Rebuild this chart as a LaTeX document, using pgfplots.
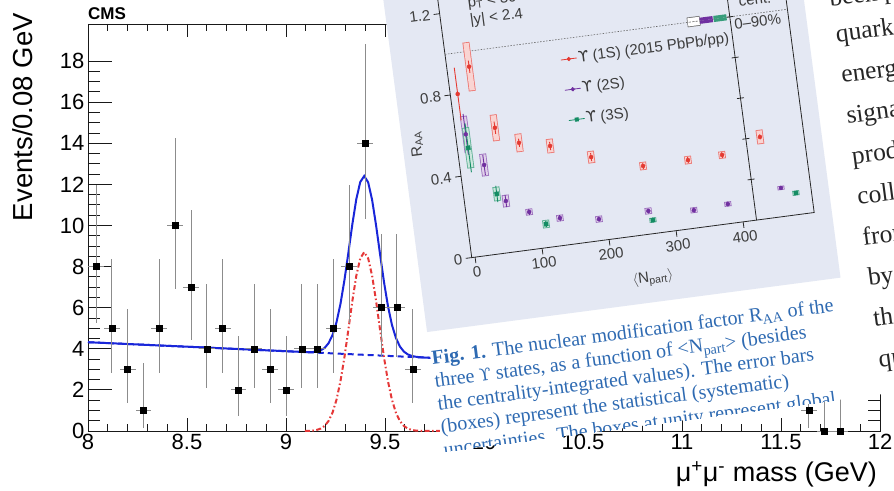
\documentclass[border=0pt]{standalone}
\usepackage{fontspec}
\setmainfont{Liberation Sans}
\newfontfamily\seriffont{Liberation Serif}
\newfontfamily\dvsans{DejaVu Sans}
\newfontfamily\dvserif{DejaVu Serif}
\usepackage{pgfplots}
\pgfplotsset{compat=1.18}
\usepackage{pgfplotstable}
\usetikzlibrary{calc}

\definecolor{cmsblue}{rgb}{0.10,0.15,0.85}
\definecolor{cmsred}{rgb}{0.90,0.22,0.22}
\definecolor{errgray}{gray}{0.55}
\definecolor{paperblue}{RGB}{228,232,243}
\definecolor{capblue}{RGB}{46,106,178}
\definecolor{ured}{RGB}{228,58,50}
\definecolor{upur}{RGB}{112,48,160}
\definecolor{ugrn}{RGB}{20,140,100}
\definecolor{txtgray}{RGB}{60,60,60}

% ---------------- main CMS data ----------------
\pgfplotstableread{
x y ex ep em
8.04 8 0.04 3.95 2.77
8.12 5 0.04 3.38 2.16
8.20 3 0.04 2.92 1.63
8.28 1 0.04 2.30 0.83
8.36 5 0.04 3.38 2.16
8.44 10 0.04 4.27 3.11
8.52 7 0.04 3.77 2.58
8.60 4 0.04 3.16 1.91
8.68 5 0.04 3.38 2.16
8.76 2 0.04 2.64 1.29
8.84 4 0.04 3.16 1.91
8.92 3 0.04 2.92 1.63
9.00 2 0.04 2.64 1.29
9.08 4 0.04 3.16 1.91
9.16 4 0.04 3.16 1.91
9.24 5 0.04 3.38 2.16
9.32 8 0.04 3.95 2.77
9.40 14 0.04 4.83 3.70
9.48 6 0.04 3.58 2.38
9.56 6 0.04 3.58 2.38
9.64 3 0.04 2.92 1.63
11.64 1 0.04 2.30 0.83
11.72 0 0.04 1.84 0
11.80 0 0.04 1.84 0
}\cmsdata

\pgfplotstableread{
x y
8.000 4.320
9.095 3.841
9.115 3.837
9.135 3.842
9.155 3.864
9.175 3.921
9.195 4.042
9.215 4.273
9.235 4.671
9.255 5.288
9.275 6.179
9.295 7.330
9.315 8.671
9.335 10.053
9.355 11.274
9.375 12.115
9.395 12.406
9.415 12.097
9.435 11.239
9.455 10.000
9.475 8.601
9.495 7.242
9.515 6.073
9.535 5.165
9.555 4.530
9.575 4.115
9.595 3.866
9.615 3.727
9.635 3.653
9.655 3.613
9.675 3.591
9.695 3.577
9.800 3.528
}\totfit

\pgfplotstableread{
x y
9.095 0.003
9.115 0.008
9.135 0.021
9.155 0.052
9.175 0.118
9.195 0.248
9.215 0.488
9.235 0.894
9.255 1.52
9.275 2.42
9.295 3.58
9.315 4.93
9.335 6.32
9.355 7.55
9.375 8.40
9.395 8.70
9.415 8.40
9.435 7.55
9.455 6.32
9.475 4.93
9.495 3.58
9.515 2.42
9.535 1.52
9.555 0.894
9.575 0.488
9.595 0.248
9.615 0.118
9.635 0.052
9.655 0.021
9.675 0.008
9.695 0.003
9.800 0.000
}\sigfit

% ---------------- inset data (R_AA vs Npart) ----------------
\pgfplotstableread{
n r stat
6 0.80 0.13
28 0.925 0.03
54 0.613 0.03
86.5 0.525 0.02
131.5 0.49 0.02
189.5 0.41 0.02
264 0.334 0.015
331 0.334 0.015
382 0.337 0.015
441 0.40 0.012
}\upsA
\pgfplotstableread{
n r sys
28 0.925 0.12
54 0.613 0.065
86.5 0.525 0.045
131.5 0.49 0.035
189.5 0.41 0.03
264 0.334 0.02
331 0.334 0.02
382 0.337 0.018
441 0.40 0.035
}\upsAsys
\pgfplotstableread{
n r stat
10 0.60 0.10
31 0.44 0.05
56 0.252 0.03
88 0.184 0.015
132 0.135 0.015
189 0.105 0.012
263 0.113 0.012
330 0.088 0.012
381 0.096 0.012
462 0.14 0.008
}\upsB
\pgfplotstableread{
n r sys
10 0.60 0.09
31 0.44 0.055
56 0.252 0.03
88 0.184 0.016
132 0.135 0.016
189 0.105 0.016
263 0.113 0.016
330 0.088 0.014
381 0.096 0.012
462 0.14 0.01
}\upsBsys
\pgfplotstableread{
n r stat
11 0.533 0.12
44 0.292 0.04
110.5 0.115 0.015
268 0.066 0.012
483 0.106 0.008
}\upsC
\pgfplotstableread{
n r sys
11 0.533 0.10
44 0.292 0.035
110.5 0.115 0.02
268 0.066 0.012
483 0.106 0.012
}\upsCsys
\pgfplotstableread{
n r sys
366 1 0.024
}\globA
\pgfplotstableread{
n r sys
385 1 0.015
}\globB
\pgfplotstableread{
n r sys
405.5 1 0.015
}\globC

\newcommand\sysboxes[2]{%
  \addplot[forget plot, draw=none, mark=none, error bars/.cd, y dir=both, y explicit, error mark=none,
    error bar style={draw=#1!70, line width=7pt}] table[x=n,y=r,y error=sys]{#2};
  \addplot[forget plot, draw=none, mark=none, error bars/.cd, y dir=both, y explicit, error mark=none,
    error bar style={draw=#1!22, line width=5.4pt}] table[x=n,y=r,y error expr=\thisrow{sys}-0.004]{#2};
}
\newcommand\statpts[3]{%
  \addplot[forget plot, only marks, mark=#3, mark size=2pt, color=#1, error bars/.cd, y dir=both, y explicit,
    error mark=none, error bar style={line width=0.9pt, draw=#1}] table[x=n,y=r,y error=stat]{#2};
}
\newcommand\insetfont{\fontsize{15}{17}\selectfont}

\begin{document}
\begin{tikzpicture}
\useasboundingbox (0pt,0pt) rectangle (894pt,490pt);

% ================= CMS mass spectrum =================
\begin{axis}[
  at={(88pt,59pt)}, anchor=south west, scale only axis,
  width=792pt, height=407pt,
  xmin=8, xmax=12, ymin=0, ymax=19.8,
  clip=false,
  axis line style={black!90, line width=0.9pt},
  xtick={8,8.5,9,9.5,10,10.5,11,11.5,12},
  ytick={0,2,4,6,8,10,12,14,16,18},
  minor x tick num=4, minor y tick num=3,
  xtick style={black!90, line width=0.8pt, /pgfplots/major tick length=13pt, /pgfplots/minor tick length=7pt},
  ytick style={black!90, line width=0.8pt, /pgfplots/major tick length=24pt, /pgfplots/minor tick length=12pt},
  ticklabel style={font=\fontsize{22}{24}\selectfont},
  /pgf/number format/assume math mode=true,
  xlabel={μ\textsuperscript{+}μ\textsuperscript{-} mass (GeV)},
  xlabel style={at={(axis description cs:1,0)}, anchor=north east, inner sep=0pt, yshift=-30pt, xshift=-3pt,
    font=\fontsize{27}{30}\selectfont},
  ylabel={Events/0.08 GeV},
  ylabel style={at={(axis description cs:-0.0821,1.0272)}, anchor=east, inner sep=0pt,
    font=\fontsize{27.5}{30}\selectfont},
]
\addplot[cmsblue, line width=2pt, dash pattern=on 6pt off 4pt] coordinates {(8,4.32) (9.8,3.528)};
\addplot[cmsred, line width=2pt, dash pattern=on 5pt off 2.5pt on 1.5pt off 2.5pt] table[x=x,y=y]{\sigfit};
\addplot[cmsblue, line width=2pt] table[x=x,y=y]{\totfit};
\addplot[only marks, mark=square*, mark size=3pt, black,
  error bars/.cd, x dir=both, x explicit, y dir=both, y explicit, error mark=none,
  error bar style={errgray, line width=0.8pt}]
  table[x=x, y=y, x error=ex, y error plus=ep, y error minus=em]{\cmsdata};
\end{axis}
\node[anchor=base west, inner sep=0pt, font=\bfseries\fontsize{17}{17}\selectfont] at (88pt,470pt) {CMS};

% ================= overlaid paper excerpt =================
\begin{scope}[transform canvas={shift={(443pt,37pt)}, rotate=7.5}]
\fill[white] (0pt,1pt) rectangle (800pt,800pt);
\fill[paperblue] (0pt,122pt) rectangle (417pt,800pt);

\begin{axis}[
  at={(54pt,190pt)}, anchor=south west, scale only axis,
  width=345.4pt, height=287pt,
  xmin=-5, xmax=506, ymin=0, ymax=1.4,
  clip=false,
  axis line style={black!85, line width=0.8pt},
  tick align=outside, xtick pos=bottom, ytick pos=left,
  xtick={0,100,200,300,400}, ytick={0,0.4,0.8,1.2},
  minor tick num=0,
  major tick length=6pt,
  tick style={black!85, line width=0.8pt},
  ticklabel style={font=\insetfont, text=txtgray},
  /pgf/number format/assume math mode=true,
  legend style={at={(axis cs:163,0.935)}, anchor=north west, draw=none, fill=none,
    font=\insetfont, text=txtgray, row sep=16pt, inner sep=0pt,
    nodes={inner sep=1pt}},
  legend cell align=left,
  legend image code/.code={\draw[mark repeat=2,mark phase=2,#1] plot coordinates {(0pt,0pt) (8pt,0pt) (16pt,0pt)};},
]
\addplot[forget plot, black!60, line width=0.6pt, dash pattern=on 1.5pt off 1.5pt] coordinates {(-5,1) (506,1)};
\draw[black!85, line width=0.8pt] (axis cs:420,0) -- (axis cs:420,1.4);
\pgfplotsinvokeforeach{0.2,0.4,0.6,0.8,1.0,1.2}{\draw[black!85, line width=0.8pt] ($(axis cs:420,#1)+(-3.5pt,0pt)$) -- ++(7pt,0pt);}

\sysboxes{ured}{\upsAsys}
\sysboxes{upur}{\upsBsys}
\sysboxes{ugrn}{\upsCsys}
\statpts{ured}{\upsA}{*}
\statpts{upur}{\upsB}{*}
\statpts{ugrn}{\upsC}{square*}

% global uncertainty boxes at unity
\addplot[forget plot, draw=none, mark=none, error bars/.cd, y dir=both, y explicit, error mark=none,
  error bar style={draw=black!55, line width=13pt}] table[x=n,y=r,y error=sys]{\globA};
\addplot[forget plot, draw=none, mark=none, error bars/.cd, y dir=both, y explicit, error mark=none,
  error bar style={draw=white, line width=11.6pt}] table[x=n,y=r,y error expr=\thisrow{sys}-0.004]{\globA};
\addplot[forget plot, black!60, line width=0.6pt, dash pattern=on 2pt off 1.5pt] coordinates {(359,1) (373,1)};
\addplot[forget plot, draw=none, mark=none, error bars/.cd, y dir=both, y explicit, error mark=none,
  error bar style={draw=upur, line width=13pt}] table[x=n,y=r,y error=sys]{\globB};
\addplot[forget plot, draw=none, mark=none, error bars/.cd, y dir=both, y explicit, error mark=none,
  error bar style={draw=ugrn!85, line width=13pt}] table[x=n,y=r,y error=sys]{\globC};

\addlegendimage{ured, line width=0.8pt, mark=*, mark size=1.7pt}
\addlegendentry{{\dvsans ϒ} (1S) (2015 PbPb/pp)}
\addlegendimage{upur, line width=0.8pt, mark=*, mark size=1.7pt}
\addlegendentry{{\dvsans ϒ} (2S)}
\addlegendimage{ugrn, line width=0.8pt, mark=square*, mark size=1.6pt}
\addlegendentry{{\dvsans ϒ} (3S)}

\node[anchor=west, inner sep=0pt, font=\insetfont, text=txtgray] at (axis cs:38,1.23) {p\textsubscript{T} < 30 GeV/c};
\node[anchor=west, inner sep=0pt, font=\insetfont, text=txtgray] at (axis cs:38,1.145) {|y| < 2.4};
\node[inner sep=0pt, font=\insetfont, text=txtgray] at (axis cs:460,1.065) {cent.};
\node[inner sep=0pt, font=\insetfont, text=txtgray] at (axis cs:460,0.96) {0–90\%};
\node[inner sep=0pt, font=\insetfont, text=txtgray] at (axis cs:257,-0.215) {$\langle$N\textsubscript{part}$\rangle$};
\node[inner sep=0pt, rotate=90, font=\insetfont, text=txtgray] at (axis cs:-64,0.58) {R\textsubscript{AA}};
\end{axis}

% caption
\begin{scope}
\clip (-5pt,1pt) rectangle (800pt,800pt);
\begin{scope}[every node/.style={anchor=base west, inner sep=0pt, font=\seriffont\fontsize{20}{20}\selectfont, text=capblue}]
\node at (1pt,89pt) {\textbf{Fig. 1.} The nuclear modification factor R\textsubscript{AA} of the};
\node at (1pt,66pt) {three {\dvserif\fontsize{17}{17}\selectfont ϒ} states, as a function of <N\textsubscript{part}> (besides};
\node at (1pt,43pt) {the centrality-integrated values). The error bars};
\node at (1pt,20pt) {(boxes) represent the statistical (systematic)};
\node at (1pt,-3.5pt) {uncertainties. The boxes at unity represent global,};
\end{scope}
\end{scope}

% body text column
\begin{scope}[every node/.style={anchor=base west, inner sep=0pt, font=\seriffont\fontsize{25.5}{25.5}\selectfont, text=black!85}]
\node at (442pt,392pt) {been predicted};
\node at (444pt,356pt) {quark gluon plasma};
\node at (444pt,315pt) {energy density};
\node at (444pt,274pt) {signatures of};
\node at (444pt,233pt) {production in};
\node at (444pt,192pt) {collisions};
\node at (444pt,151pt) {from the};
\node at (444pt,110pt) {by the};
\node at (444pt,69pt) {the};
\node at (444pt,28pt) {quarkonia};
\end{scope}
\end{scope}
\end{tikzpicture}
\end{document}
